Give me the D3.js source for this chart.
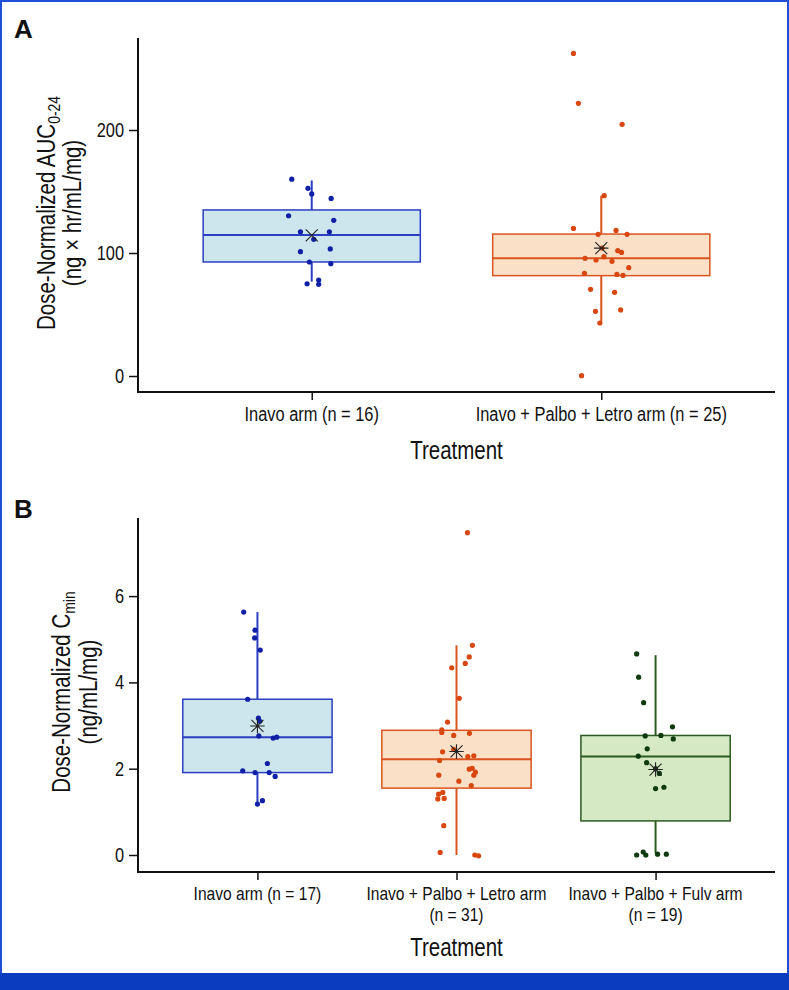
<!DOCTYPE html>
<html>
<head>
<meta charset="utf-8">
<script src="https://cdn.jsdelivr.net/npm/d3@7/dist/d3.min.js"></script>
<style>
  html, body { margin: 0; padding: 0; background: #fff; }
  svg { display: block; }
  text { font-family: "Liberation Sans", Arial, sans-serif; fill: #111; }
</style>
</head>
<body>
<svg id="chart" width="789" height="990"></svg>
<script>
// ---------------- DATA ----------------
// Panel A: Dose-normalized AUC0-24
const catsA = ["Inavo arm (n = 16)", "Inavo + Palbo + Letro arm (n = 25)"];
const ticksA = [0, 100, 200];

const aucInavo = [160, 152.6, 148, 144.4, 130.3, 126.6, 117.3, 117.3, 111.1, 101.1, 103.3, 92.7, 91.3, 78, 75, 74.5];
const aucInavoJit = [-0.069, -0.013, 0.000, 0.067, -0.080, 0.076, -0.039, 0.061, 0.007, -0.039, 0.064, -0.008, 0.066, 0.024, -0.016, 0.024];

const aucLetro = [262.3, 221.7, 204.6, 146.6, 120, 118.4, 115.2, 115.2, 101.9, 100.5, 95.7, 94.3, 97, 93.2, 88.1, 83.5, 82.6, 81.8, 70.5, 68, 52.6, 53.7, 43.1, 0.3, 104];
const aucLetroJit = [-0.096, -0.079, 0.072, 0.010, -0.096, 0.051, -0.011, 0.089, 0.057, 0.070, -0.056, -0.018, 0.009, 0.037, 0.095, -0.058, 0.054, 0.075, -0.037, 0.046, -0.020, 0.067, -0.005, -0.068, 0.003];

// box statistics [Inavo, Letro]
const aucQ1 = [92.7, 81.6];
const aucMedian = [114.6, 95.7];
const aucQ3 = [135, 115.4];
const aucWhiskerLo = [76.7, 43.4];
const aucWhiskerHi = [159, 146.6];
const aucMean = [114.3, 104];

// Panel B: Dose-normalized Cmin
const catsB = [["Inavo arm (n = 17)"], ["Inavo + Palbo + Letro arm", "(n = 31)"], ["Inavo + Palbo + Fulv arm", "(n = 19)"]];
const ticksB = [0, 2, 4, 6];

const cminInavo = [5.63, 5.21, 5.03, 4.75, 3.61, 3.17, 3.10, 2.76, 2.71, 2.73, 2.12, 1.95, 1.91, 1.91, 1.82, 1.26, 1.18];
const cminInavoJit = [-0.069, -0.012, -0.014, 0.014, -0.049, 0.005, 0.012, 0.007, 0.079, 0.097, 0.050, -0.074, -0.012, 0.059, 0.089, 0.025, 0.000];

const cminLetro = [7.47, 4.86, 4.59, 4.44, 4.34, 3.63, 3.08, 2.90, 2.84, 2.77, 2.82, 2.45, 2.39, 2.28, 2.30, 2.19, 1.99, 2.01, 1.92, 1.85, 1.85, 1.71, 1.61, 1.45, 1.41, 1.30, 1.31, 0.68, 0.06, 0.0, -0.02];
const cminLetroJit = [0.055, 0.080, 0.064, 0.044, -0.024, 0.014, -0.045, -0.074, -0.074, -0.014, 0.065, -0.014, -0.070, 0.057, 0.087, -0.085, 0.064, 0.079, 0.095, -0.089, 0.087, 0.012, 0.074, -0.069, -0.090, -0.094, -0.062, -0.064, -0.082, 0.092, 0.111];

const cminFulv = [4.66, 4.12, 3.53, 2.97, 2.76, 2.77, 2.69, 2.46, 2.29, 2.14, 1.89, 1.54, 1.57, 2.0, 0.0, 0.07, 0.0, 0.02, 0.02];
const cminFulvJit = [-0.095, -0.085, -0.060, 0.085, -0.052, 0.027, 0.089, -0.042, -0.087, -0.045, 0.019, 0.000, 0.042, 0.000, -0.095, -0.062, -0.049, 0.010, 0.054];

// box statistics [Inavo, Letro, Fulv]
const cminQ1 = [1.91, 1.55, 0.79];
const cminMedian = [2.73, 2.22, 2.28];
const cminQ3 = [3.61, 2.89, 2.77];
const cminWhiskerLo = [1.18, 0.0, 0.04];
const cminWhiskerHi = [5.63, 4.86, 4.63];
const cminMean = [2.99, 2.40, 1.98];

// ---------------- STYLE ----------------
const palette = [
  { point: "#0f1fa6", stroke: "#2b3fc2", fill: "#cde5ec" },
  { point: "#d8470f", stroke: "#d9541e", fill: "#fbe0c8" },
  { point: "#0d3a0e", stroke: "#2c5a20", fill: "#d4e9c4" }
];
const NARROW = 0.82;

const svg = d3.select("#chart");

// condense plain text nodes (emulates a narrow typeface)
function condense(sel) {
  sel.each(function () {
    const len = this.getComputedTextLength();
    d3.select(this).attr("textLength", len * NARROW).attr("lengthAdjust", "spacingAndGlyphs");
  });
}

// frame
svg.append("rect").attr("x", 1).attr("y", 1).attr("width", 787).attr("height", 980)
  .attr("fill", "none").attr("stroke", "#1f4fd8").attr("stroke-width", 2);
svg.append("rect").attr("x", 0).attr("y", 973).attr("width", 789).attr("height", 17).attr("fill", "#0b3bbf");

function meanMarker(g, x, y, kind) {
  const s = 6;
  const p = d3.path();
  p.moveTo(x - s, y - s); p.lineTo(x + s, y + s);
  p.moveTo(x - s, y + s); p.lineTo(x + s, y - s);
  if (kind >= 1) { p.moveTo(x - s * 1.2, y); p.lineTo(x + s * 1.2, y); }
  if (kind >= 2) { p.moveTo(x, y - s * 1.2); p.lineTo(x, y + s * 1.2); }
  g.append("path").attr("d", p.toString()).attr("stroke", "#222").attr("stroke-width", 1.1).attr("fill", "none");
}

function panel(opts) {
  const { cats, ticks, domain, yTop, yBot, groups, stats, label, labelY, titleLines, titleX, titleY, tickLabelY, xTitleY, markerKinds, catFont } = opts;
  const xLeft = 138, xRight = 775;
  const x = d3.scalePoint().domain(d3.range(cats.length)).range([xLeft, xRight]).padding(0.6);
  const y = d3.scaleLinear().domain(domain).range([yBot, yTop]);
  const step = x.step();
  const bw = step * 0.75;
  const g = svg.append("g");

  // boxes
  groups.forEach((grp, i) => {
    const c = palette[i];
    const cx = x(i);
    g.append("line").attr("x1", cx).attr("x2", cx).attr("y1", y(stats.hi[i])).attr("y2", y(stats.lo[i]))
      .attr("stroke", c.stroke).attr("stroke-width", 2);
    g.append("rect").attr("x", cx - bw / 2).attr("width", bw)
      .attr("y", y(stats.q3[i])).attr("height", y(stats.q1[i]) - y(stats.q3[i]))
      .attr("fill", c.fill).attr("stroke", c.stroke).attr("stroke-width", 1.5);
    g.append("line").attr("x1", cx - bw / 2).attr("x2", cx + bw / 2)
      .attr("y1", y(stats.med[i])).attr("y2", y(stats.med[i]))
      .attr("stroke", c.stroke).attr("stroke-width", 2);
  });
  // points
  groups.forEach((grp, i) => {
    const c = palette[i];
    g.selectAll(null).data(grp.values.map((v, k) => ({ v, j: grp.jit[k] }))).enter()
      .append("circle")
      .attr("cx", d => x(i) + d.j * step)
      .attr("cy", d => y(d.v))
      .attr("r", 2.6)
      .attr("fill", c.point);
  });
  // means
  groups.forEach((grp, i) => meanMarker(g, x(i), y(stats.mean[i]), markerKinds[i]));

  // axes
  const yAxis = d3.axisLeft(y).tickValues(ticks).tickSize(9).tickPadding(5).tickFormat(d3.format("d"));
  const ya = g.append("g").attr("transform", `translate(${xLeft},0)`).call(yAxis);
  ya.select(".domain").attr("d", `M0,${yTop}V${yBot}`).attr("stroke", "#111").attr("stroke-width", 2);
  ya.selectAll(".tick line").attr("stroke", "#111").attr("stroke-width", 1.5);
  ya.selectAll(".tick text").attr("font-size", 20).attr("font-family", null).attr("fill", "#111").call(condense);

  const xAxis = d3.axisBottom(x).tickSize(8).tickFormat(() => "");
  const xa = g.append("g").attr("transform", `translate(0,${yBot})`).call(xAxis);
  xa.select(".domain").attr("d", `M${xLeft - 1},0H${xRight}`).attr("stroke", "#111").attr("stroke-width", 2);
  xa.selectAll(".tick line").attr("stroke", "#111").attr("stroke-width", 1.5);

  cats.forEach((lines, i) => {
    const arr = Array.isArray(lines) ? lines : [lines];
    arr.forEach((t, k) => {
      g.append("text").attr("x", x(i)).attr("y", tickLabelY + k * 21)
        .attr("text-anchor", "middle").attr("font-size", catFont).attr("dy", "0.35em").text(t).call(condense);
    });
  });

  g.append("text").attr("x", (xLeft + xRight) / 2).attr("y", xTitleY).attr("text-anchor", "middle")
    .attr("dy", "0.35em").attr("font-size", 25).text("Treatment").call(condense);

  // y title (rotated, horizontally condensed in its own frame)
  titleLines.forEach((ln, k) => {
    const t = g.append("text").attr("transform", `translate(${titleX[k]},${titleY}) rotate(-90) scale(${NARROW},1)`)
      .attr("text-anchor", "middle").attr("dy", "0.35em").attr("font-size", 25);
    ln.forEach(seg => {
      const ts = t.append("tspan").text(seg.t);
      if (seg.sub) ts.attr("font-size", 17).attr("dy", "0.3em");
    });
  });

  svg.append("text").attr("x", 14).attr("y", labelY).attr("font-size", 26).attr("font-weight", "bold")
    .text(label);
}

panel({
  cats: catsA, ticks: ticksA, domain: [-13, 274.8], yTop: 38, yBot: 392,
  groups: [{ values: aucInavo, jit: aucInavoJit }, { values: aucLetro, jit: aucLetroJit }],
  stats: { q1: aucQ1, med: aucMedian, q3: aucQ3, lo: aucWhiskerLo, hi: aucWhiskerHi, mean: aucMean },
  label: "A", labelY: 38, catFont: 20,
  titleLines: [[{ t: "Dose-Normalized AUC" }, { t: "0-24", sub: true }], [{ t: "(ng × hr/mL/mg)" }]],
  titleX: [46, 72], titleY: 213, tickLabelY: 414, xTitleY: 450, markerKinds: [0, 1]
});

panel({
  cats: catsB, ticks: ticksB, domain: [-0.394, 7.81], yTop: 518, yBot: 872,
  groups: [{ values: cminInavo, jit: cminInavoJit }, { values: cminLetro, jit: cminLetroJit }, { values: cminFulv, jit: cminFulvJit }],
  stats: { q1: cminQ1, med: cminMedian, q3: cminQ3, lo: cminWhiskerLo, hi: cminWhiskerHi, mean: cminMean },
  label: "B", labelY: 518, catFont: 19,
  titleLines: [[{ t: "Dose-Normalized C" }, { t: "min", sub: true }], [{ t: "(ng/mL/mg)" }]],
  titleX: [61, 88], titleY: 692, tickLabelY: 893, xTitleY: 947, markerKinds: [2, 2, 2]
});
</script>
</body>
</html>
